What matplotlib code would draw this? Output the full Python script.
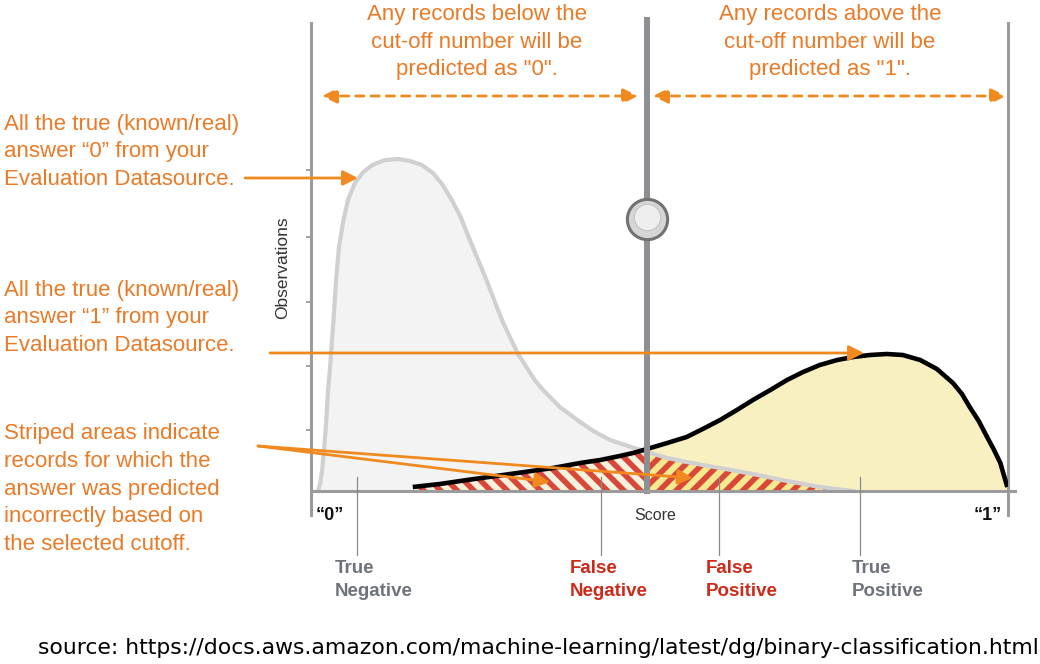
"""
Binary classification cut-off diagram (score distributions of true "0" / true "1").

Output:
    out.png
"""
import matplotlib as mpl
import matplotlib.pyplot as plt
import numpy as np
from matplotlib.patches import ArrowStyle, FancyArrowPatch

W, H = 1040, 664

# true "0" distribution (score, observations)
SCORE_0 = [0.010, 0.013, 0.016, 0.019, 0.022, 0.024, 0.027, 0.032, 0.036,
           0.040, 0.046, 0.053, 0.063, 0.075, 0.088, 0.106, 0.125, 0.142,
           0.159, 0.175, 0.189, 0.202, 0.214, 0.225, 0.238, 0.250, 0.261,
           0.274, 0.286, 0.297, 0.310, 0.321, 0.333, 0.357, 0.382, 0.405,
           0.429, 0.455, 0.482, 0.511, 0.539, 0.562, 0.587, 0.634, 0.683,
           0.730, 0.778]
OBS_0 = [0.00, 0.07, 0.21, 0.44, 0.71, 0.96, 1.21, 1.68, 2.11,
         2.43, 2.69, 2.91, 3.08, 3.19, 3.26, 3.31, 3.32, 3.30,
         3.26, 3.18, 3.06, 2.91, 2.75, 2.56, 2.34, 2.14, 1.94,
         1.71, 1.53, 1.37, 1.23, 1.11, 1.01, 0.84, 0.71, 0.60,
         0.51, 0.45, 0.39, 0.33, 0.29, 0.26, 0.23, 0.17, 0.10,
         0.04, 0.00]

# true "1" distribution
SCORE_1 = [0.146, 0.185, 0.224, 0.286, 0.347, 0.386, 0.415, 0.443, 0.462,
           0.482, 0.511, 0.539, 0.562, 0.587, 0.611, 0.634, 0.659, 0.683,
           0.706, 0.730, 0.755, 0.778, 0.802, 0.826, 0.849, 0.874, 0.898,
           0.921, 0.934, 0.945, 0.958, 0.970, 0.980, 0.989, 0.994, 0.999]
OBS_1 = [0.04, 0.07, 0.11, 0.17, 0.23, 0.28, 0.31, 0.35, 0.38,
         0.42, 0.48, 0.54, 0.62, 0.71, 0.81, 0.91, 1.01, 1.11,
         1.19, 1.26, 1.31, 1.34, 1.36, 1.37, 1.36, 1.31, 1.22,
         1.08, 0.97, 0.84, 0.70, 0.54, 0.41, 0.28, 0.16, 0.04]

CUTOFF = 0.482
KNOB_OBS = 2.72
Y_TICKS = [0.61, 1.25, 1.89, 2.54, 3.21]

TXT_BELOW = 'Any records below the\ncut-off number will be\npredicted as "0".'
TXT_ABOVE = 'Any records above the\ncut-off number will be\npredicted as "1".'
TXT_TRUE0 = "All the true (known/real)\nanswer \u201c0\u201d from your\nEvaluation Datasource."
TXT_TRUE1 = "All the true (known/real)\nanswer \u201c1\u201d from your\nEvaluation Datasource."
TXT_STRIPE = ("Striped areas indicate\nrecords for which the\nanswer was predicted\n"
              "incorrectly based on\nthe selected cutoff.")
OUTCOMES = ["True\nNegative", "False\nNegative", "False\nPositive", "True\nPositive"]
SOURCE = "source: https://docs.aws.amazon.com/machine-learning/latest/dg/binary-classification.html"

ORANGE_TXT = "#ea7a26"
ORANGE = "#f08a1e"
AXIS_GRAY = "#9b9b9b"
RED = "#d8473a"


def arrow(ax, p0, p1, style="-|>", ls="-"):
    st = ArrowStyle(style, head_length=9, head_width=4.5)
    a = FancyArrowPatch(p0, p1, arrowstyle=st, mutation_scale=1,
                        color=ORANGE, lw=2, ls=ls, shrinkA=0, shrinkB=0,
                        zorder=10)
    ax.add_patch(a)


def main() -> None:
    mpl.rcParams["font.family"] = ["Liberation Sans", "DejaVu Sans"]
    mpl.rcParams["hatch.color"] = RED
    mpl.rcParams["hatch.linewidth"] = 4.0

    s0, o0 = np.array(SCORE_0), np.array(OBS_0)
    s1, o1 = np.array(SCORE_1), np.array(OBS_1)

    fig = plt.figure(figsize=(W / 100, H / 100), dpi=100)

    # main chart, score 0..1 on x
    ax = fig.add_axes([311 / W, 149 / H, 697 / W, 495 / H])
    ax.set_xlim(0, 1)
    ax.set_ylim(-0.24, 4.71)
    ax.patch.set_alpha(0)

    ax.fill_between(s0, 0, o0, color="#f3f3f3", lw=0, zorder=1)

    left1 = s1 <= CUTOFF
    right1 = s1 >= CUTOFF
    ax.fill_between(s1[left1], 0, o1[left1], facecolor="#f4f1dc",
                    edgecolor=RED, hatch="\\\\", lw=0, zorder=2)
    ax.fill_between(s1[right1], 0, o1[right1], color="#f9f0c2", lw=0, zorder=2)

    right0 = s0 >= CUTOFF
    ax.fill_between(s0[right0], 0, o0[right0], facecolor="#f6e98e",
                    edgecolor=RED, hatch="//", lw=0, zorder=3)

    ax.plot(s0, o0, color="#d0d0d0", lw=3, solid_joinstyle="round", zorder=4)
    ax.plot(s1, o1, color="#000000", lw=3.3, solid_joinstyle="round",
            solid_capstyle="butt", zorder=5)

    # cut-off slider
    ax.plot([CUTOFF, CUTOFF], [0, 4.71], color="#8d8f93", lw=4.3, zorder=6,
            clip_on=False)
    ax.plot([CUTOFF], [KNOB_OBS], "o", ms=29, mfc="#d6d6d6", mec="#727272",
            mew=2.2, zorder=7)
    ax.plot([CUTOFF], [KNOB_OBS + 0.02], "o", ms=19, mfc="#eeeeee",
            mec="#c4c4c4", mew=0.8, zorder=8)

    # frame
    for side in ("top", "bottom"):
        ax.spines[side].set_visible(False)
    for side in ("left", "right"):
        ax.spines[side].set_color(AXIS_GRAY)
        ax.spines[side].set_linewidth(2.2)
        ax.spines[side].set_bounds(-0.24, 4.68)
    ax.plot([0, 1.01], [0, 0], color=AXIS_GRAY, lw=2.2, clip_on=False,
            zorder=6)
    ax.set_xticks([])
    ax.set_yticks(Y_TICKS)
    ax.tick_params(axis="y", direction="out", length=3.6, width=1.3,
                   color=AXIS_GRAY, labelleft=False)

    # overlay in pixel coordinates for annotations
    ov = fig.add_axes([0, 0, 1, 1])
    ov.set_xlim(0, W)
    ov.set_ylim(H, 0)
    ov.set_axis_off()

    kw = dict(color=ORANGE_TXT, fontsize=16, linespacing=1.42)
    ov.text(477, 42, TXT_BELOW, ha="center", va="center", **kw)
    ov.text(830, 42, TXT_ABOVE, ha="center", va="center", **kw)
    ov.text(4, 152, TXT_TRUE0, ha="left", va="center", **kw)
    ov.text(4, 318, TXT_TRUE1, ha="left", va="center", **kw)
    ov.text(4, 489, TXT_STRIPE, ha="left", va="center", **kw)

    dash = (0, (3, 2.5))
    arrow(ov, (322, 96), (638, 96), style="<|-|>", ls=dash)
    arrow(ov, (653, 96), (1006, 96), style="<|-|>", ls=dash)
    arrow(ov, (245, 178), (358, 178))
    arrow(ov, (270, 353), (864, 353))
    arrow(ov, (258, 446), (550, 482))
    arrow(ov, (258, 446), (693, 478))

    ov.text(283, 268, "Observations", rotation=90, ha="center", va="center",
            fontsize=12.5, color="#333333")
    ov.text(316, 515, "\u201c0\u201d", ha="left", va="center", fontsize=13,
            fontweight="bold", color="#111111")
    ov.text(655, 516, "Score", ha="center", va="center", fontsize=11.5,
            color="#333333")
    ov.text(1002, 515, "\u201c1\u201d", ha="right", va="center", fontsize=13,
            fontweight="bold", color="#111111")

    line_x = [357, 601, 719, 860]
    text_x = [335, 570, 706, 852]
    colors = ["#6e727a", "#cc2a1a", "#cc2a1a", "#6e727a"]
    for lx, tx, label, c in zip(line_x, text_x, OUTCOMES, colors):
        ov.plot([lx, lx], [477, 555], color="#8a8a8a", lw=0.9, zorder=9)
        ov.text(tx, 580, label, ha="left", va="center", fontsize=13.5,
                fontweight="bold", color=c, linespacing=1.45)

    ov.text(38, 648, SOURCE, ha="left", va="center", fontsize=15.75,
            family="DejaVu Sans", color="#000000")

    fig.savefig("out.png", dpi=100)
    plt.close(fig)


if __name__ == "__main__":
    main()
